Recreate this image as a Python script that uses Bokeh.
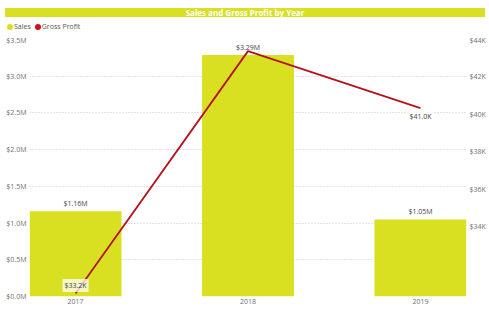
from bokeh.plotting import figure
from bokeh.layouts import column
from bokeh.models import (Range1d, LinearAxis, FixedTicker, Div, ColumnDataSource)
from bokeh.core.properties import value
from bokeh.embed import file_html
from bokeh.resources import INLINE

# ---- data ----
years = ["2017", "2018", "2019"]
sales = [1.16e6, 3.29e6, 1.05e6]
gross_profit = [33.2e3, 43.4e3, 41.0e3]
gp_label_shown = [True, False, True]
left_ticks = [0, 0.5e6, 1.0e6, 1.5e6, 2.0e6, 2.5e6, 3.0e6, 3.5e6]
left_tick_labels = ["$0.0M", "$0.5M", "$1.0M", "$1.5M", "$2.0M", "$2.5M", "$3.0M", "$3.5M"]
right_ticks = [34e3, 36e3, 38e3, 40e3, 42e3, 44e3]
right_tick_labels = ["$34K", "$36K", "$38K", "$40K", "$42K", "$44K"]
title_text = "Sales and Gross Profit by Year"
series_names = ["Sales", "Gross Profit"]

# ---- styles ----
YEL = "#D8E021"
RED = "#B3141C"
RED_DOT = "#D5101A"
GRAY = "#707070"
FONT = "Open Sans"

W, HT = 489, 35

# ---------- header (title band + legend) as HTML ----------
def dot(c):
    return ("<span style='display:inline-block;width:6px;height:6px;border-radius:50%%;"
            "background:%s;margin-right:1px;vertical-align:middle;'></span>" % c)

hdr_html = (
    "<div style='position:relative;width:%dpx;height:%dpx;font-family:\"%s\";'>" % (W, HT, FONT)
    + "<div style='position:absolute;left:5px;top:8px;width:480px;height:9px;background:%s;"
      "color:white;font-weight:bold;font-size:8px;line-height:9px;text-align:center;'>%s</div>"
      % (YEL, title_text)
    + "<div style='position:absolute;left:7px;top:22px;font-size:7px;line-height:10px;"
      "color:#555555;white-space:nowrap;'>"
    + dot(YEL) + "<span style='vertical-align:middle;margin-right:4px;'>%s</span>" % series_names[0]
    + dot(RED_DOT) + "<span style='vertical-align:middle;'>%s</span>" % series_names[1]
    + "</div></div>"
)
hdr = Div(text=hdr_html, width=W, height=HT, margin=0)

# ---------- chart ----------
xs = list(range(len(years)))

p = figure(width=W, height=310 - HT, output_backend="svg", toolbar_location=None,
           x_range=Range1d(-0.267, 2.267), y_range=Range1d(0, 3.5e6),
           min_border_left=29, min_border_right=23, min_border_top=4, min_border_bottom=14,
           background_fill_color="white", border_fill_color="white", margin=0)
p.outline_line_color = None
p.extra_y_ranges = {"gp": Range1d(33.074e3, 43.89e3), "gp_axis": Range1d(30.26e3, 44e3)}

def style_axis(ax):
    ax.axis_line_color = None
    ax.major_tick_line_color = None
    ax.minor_tick_line_color = None
    ax.major_tick_in = 0
    ax.major_tick_out = 0
    ax.major_label_text_font = FONT
    ax.major_label_text_font_size = "7px"
    ax.major_label_text_color = GRAY

p.yaxis.ticker = FixedTicker(ticks=left_ticks)
p.yaxis.major_label_overrides = dict(zip(left_ticks, left_tick_labels))
p.yaxis.major_label_standoff = 3
style_axis(p.yaxis[0])

p.xaxis.ticker = FixedTicker(ticks=xs)
p.xaxis.major_label_overrides = dict(zip(xs, years))
p.xaxis.major_label_standoff = 2
style_axis(p.xaxis[0])

rax = LinearAxis(y_range_name="gp_axis", ticker=FixedTicker(ticks=right_ticks))
rax.major_label_overrides = dict(zip(right_ticks, right_tick_labels))
rax.major_label_standoff = 3
style_axis(rax)
p.add_layout(rax, "right")

p.xgrid.grid_line_color = None
p.ygrid.grid_line_color = "#C8C8C8"
p.ygrid.grid_line_dash = "1 2"
p.ygrid.grid_line_width = 1

# bars
p.vbar(x=xs, top=sales, width=0.533, fill_color=YEL, line_color=None)

# sales labels
p.text(x=xs, y=sales, text=["$%.2fM" % (v / 1e6) for v in sales],
       text_align="center", text_baseline="bottom", y_offset=-3,
       text_font=value(FONT), text_font_size="7px", text_color="#444444")

# gross profit line
p.line(xs, gross_profit, y_range_name="gp", line_color=RED, line_width=1.8)

# gross profit labels
lx = [x for x, s in zip(xs, gp_label_shown) if s]
ly = [g for g, s in zip(gross_profit, gp_label_shown) if s]
loff = [-8 if g == min(gross_profit) else 8 for g in ly]
src = ColumnDataSource(dict(x=lx, y=ly, t=["$%.1fK" % (g / 1e3) for g in ly], off=loff))
p.text(x="x", y="y", text="t", y_offset="off", source=src, y_range_name="gp",
       text_align="center", text_baseline="middle",
       text_font=value(FONT), text_font_size="7px", text_color="#444444",
       background_fill_color="white", background_fill_alpha=0.75, padding=2)

layout = column(hdr, p, spacing=0)
open("out.html", "w").write(file_html(layout, INLINE))
